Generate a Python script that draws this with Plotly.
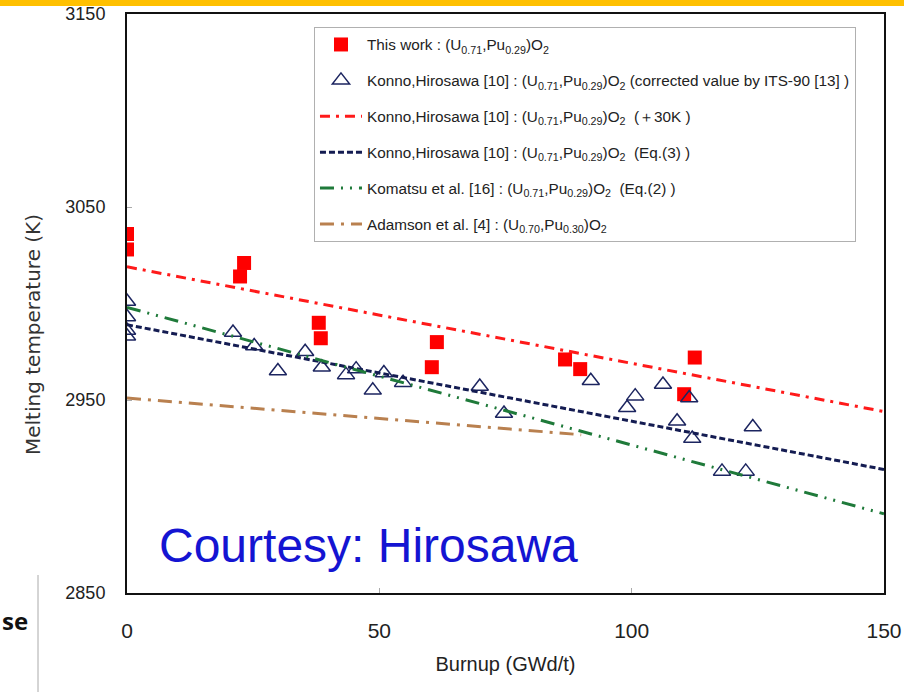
import plotly.graph_objects as go

# ---- data ----
this_work_burnup = [0, 0, 23.2, 22.4, 38.0, 38.4, 61.4, 60.4, 86.8, 89.8, 112.5, 110.4]
this_work_tm = [3036, 3028, 3021, 3014, 2990, 2982, 2980, 2967, 2971, 2966, 2972, 2953]

konno_burnup = [0, 0, 0, 0, 21.0, 25.2, 29.9, 35.3, 38.6, 43.4, 45.4, 48.7, 50.9, 54.7,
                69.9, 74.7, 91.9, 99.1, 100.7, 106.2, 111.4, 109.0, 112.0, 117.9, 122.6, 124.0]
konno_tm = [3001, 2993, 2986, 2983, 2985, 2978, 2965, 2975, 2967, 2963, 2966, 2955, 2964, 2959,
            2957, 2943, 2960, 2946, 2952, 2958, 2951, 2939, 2930, 2913, 2913, 2936]

line_burnup = [0, 150]
konno_plus30_tm = [3019, 2944]
konno_eq3_tm = [2989, 2914]
komatsu_tm = [2998, 2891]
adamson_burnup = [0, 90]
adamson_tm = [2951, 2932]

x_ticks = [0, 50, 100, 150]
y_ticks = [2850, 2950, 3050, 3150]

NARROW = "Liberation Sans Narrow, Arial Narrow, Liberation Sans, sans-serif"

fig = go.Figure()

fig.add_trace(go.Scatter(
    x=this_work_burnup, y=this_work_tm, mode="markers",
    name="This work : (U<sub>0.71</sub>,Pu<sub>0.29</sub>)O<sub>2</sub>",
    marker=dict(symbol="square", size=14, color="#ff0000", line=dict(width=0)),
    legendgroup="a"))
fig.add_trace(go.Scatter(
    x=konno_burnup, y=konno_tm, mode="markers",
    name="Konno,Hirosawa [10] : (U<sub>0.71</sub>,Pu<sub>0.29</sub>)O<sub>2</sub> (corrected value by ITS-90 [13] )",
    marker=dict(symbol="triangle-up-open", size=15, color="#1c2560", line=dict(width=1.5)),
    legendgroup="b"))
fig.add_trace(go.Scatter(
    x=line_burnup, y=konno_plus30_tm, mode="lines",
    name="Konno,Hirosawa [10] : (U<sub>0.71</sub>,Pu<sub>0.29</sub>)O<sub>2</sub>  (\uff0b30K )",
    line=dict(color="#ff1a1a", width=3, dash="10px,6px,3px,6px"),
    legendgroup="c"))
fig.add_trace(go.Scatter(
    x=line_burnup, y=konno_eq3_tm, mode="lines",
    name="Konno,Hirosawa [10] : (U<sub>0.71</sub>,Pu<sub>0.29</sub>)O<sub>2</sub>  (Eq.(3) )",
    line=dict(color="#141c52", width=3, dash="6px,3px"),
    legendgroup="d"))
fig.add_trace(go.Scatter(
    x=line_burnup, y=komatsu_tm, mode="lines",
    name="Komatsu et al. [16] : (U<sub>0.71</sub>,Pu<sub>0.29</sub>)O<sub>2</sub>  (Eq.(2) )",
    line=dict(color="#1f7a3a", width=3, dash="14px,7px,2px,7px,2px,7px"),
    legendgroup="e"))
fig.add_trace(go.Scatter(
    x=adamson_burnup, y=adamson_tm, mode="lines",
    name="Adamson et al. [4] : (U<sub>0.70</sub>,Pu<sub>0.30</sub>)O<sub>2</sub>",
    line=dict(color="#b9804f", width=3, dash="14px,7px,3px,7px"),
    legendgroup="f"))

axis_common = dict(showline=True, linecolor="#111111", linewidth=2, mirror=True,
                   showgrid=False, zeroline=False, ticks="inside", ticklen=5,
                   tickcolor="#aaaaaa", tickwidth=1, automargin=False)

fig.update_layout(
    width=916, height=692,
    margin=dict(l=127, r=32, t=14, b=99),
    paper_bgcolor="white", plot_bgcolor="white",
    showlegend=True,
    legend=dict(x=0.247, y=0.9775, xanchor="left", yanchor="top",
                bgcolor="white", bordercolor="#b0b0b0", borderwidth=1,
                font=dict(family=NARROW, size=15.3, color="#222222"),
                traceorder="grouped", tracegroupgap=13, itemwidth=42),
    xaxis=dict(range=[0, 150], tickvals=x_ticks, ticktext=[str(v) for v in x_ticks],
               tickfont=dict(family=NARROW, size=21, color="#222222"),
               ticklabelstandoff=18,
               title=dict(text="Burnup (GWd/t)", standoff=16,
                          font=dict(family=NARROW, size=20, color="#222222")),
               **axis_common),
    yaxis=dict(range=[2850, 3150], tickvals=y_ticks, ticktext=[str(v) for v in y_ticks],
               tickfont=dict(family=NARROW, size=18, color="#222222"),
               ticklabelstandoff=16,
               **axis_common),
)

# y-axis title (placed as in the reference, slightly below plot centre)
fig.add_annotation(text="Melting temperature (K)", xref="paper", yref="paper",
                   x=(33 - 127) / 757, y=(593 - 335) / 579, xanchor="center", yanchor="middle",
                   textangle=-90, showarrow=False,
                   font=dict(family="DejaVu Sans, Verdana, sans-serif", size=20, color="#333333"))

fig.add_annotation(text="Courtesy: Hirosawa", xref="paper", yref="paper",
                   x=(157 - 127) / 757, y=(593 - 545) / 579, xanchor="left", yanchor="middle",
                   showarrow=False,
                   font=dict(family="Liberation Sans, Arial, sans-serif", size=48, color="#1414d2"))

fig.add_annotation(text="<b>se</b>", xref="paper", yref="paper",
                   x=(0 - 127) / 757, y=(593 - 620) / 579, xanchor="left", yanchor="middle",
                   showarrow=False,
                   font=dict(family="Open Sans, sans-serif", size=24, color="#111111"))

# slide decorations
fig.add_shape(type="rect", xref="paper", yref="paper",
              x0=(0 - 127) / 757, x1=(904 - 127) / 757,
              y0=(593 - 6) / 579, y1=(593 + 2) / 579,
              fillcolor="#ffc000", line=dict(width=0), layer="above")
fig.add_shape(type="line", xref="paper", yref="paper",
              x0=(38 - 127) / 757, x1=(38 - 127) / 757,
              y0=(593 - 575) / 579, y1=(593 - 692) / 579,
              line=dict(color="#aaaaaa", width=1))

fig.write_html("out.html", config={"displayModeBar": False},
               post_script="document.body.style.margin='0';")
